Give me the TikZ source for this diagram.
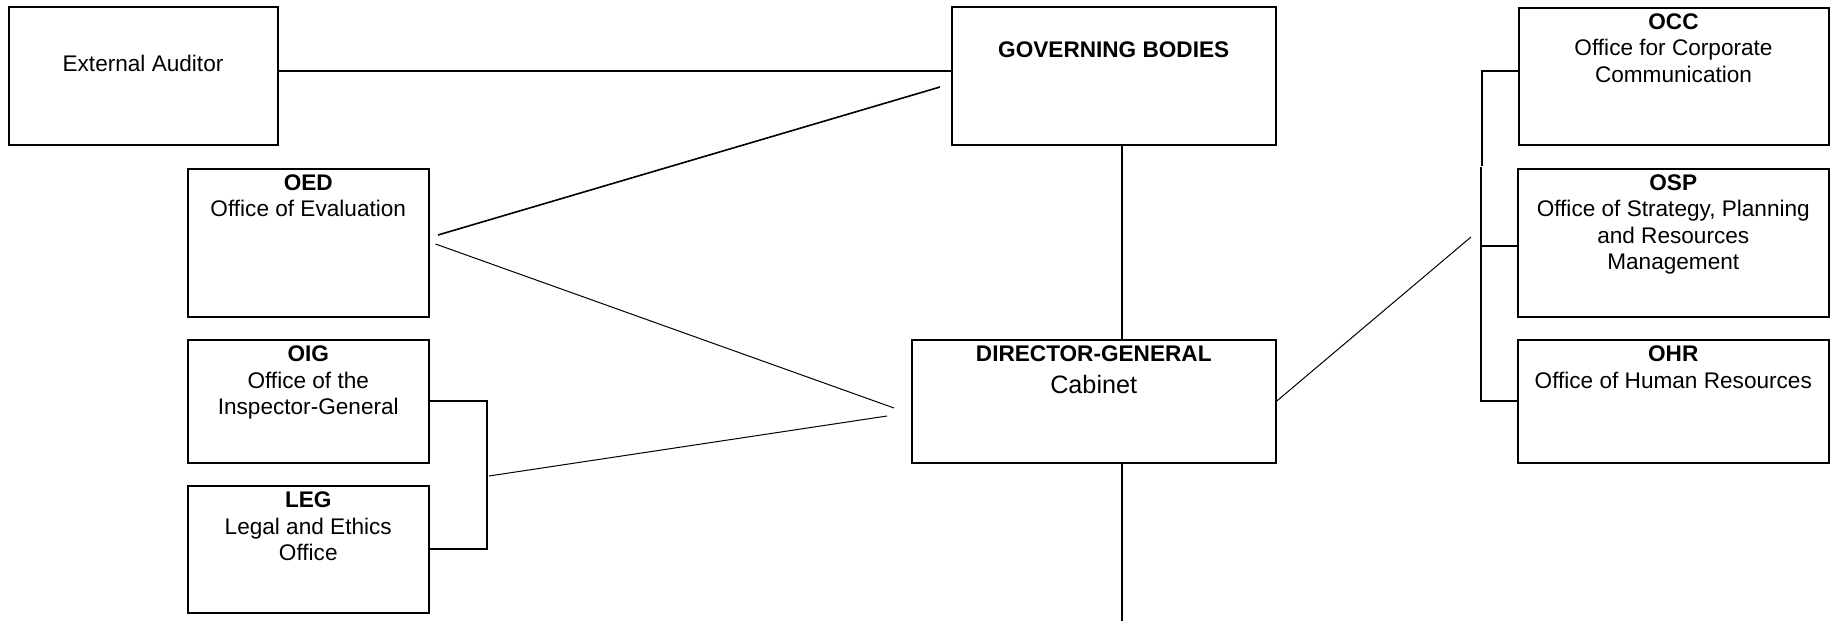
\documentclass[tikz,border=0pt]{standalone}
\usepackage{fontspec}
\setmainfont{Liberation Sans}
\usetikzlibrary{fit}
\begin{document}
\begin{tikzpicture}[x=0.5pt,y=-0.5pt,
  box/.style={draw, line width=1pt, rectangle, inner sep=0pt},
  txt/.style={anchor=north, align=center, inner sep=0pt, font=\fontsize{11.3}{13.25}\selectfont},
  ctxt/.style={anchor=center, align=center, inner sep=0pt, font=\fontsize{11.3}{13.25}\selectfont},
  conn/.style={line width=1pt},
  diag/.style={line width=0.5pt},
  diagb/.style={line width=0.8pt}]
\useasboundingbox (0,0) rectangle (1830,621);

% boxes
\node[box, fit={(8.5,7) (277.5,145)}] (ea) {};
\node[box, fit={(952,7) (1275.5,145)}] (gb) {};
\node[box, fit={(187.5,168.5) (429,316.5)}] (oed) {};
\node[box, fit={(187.5,340) (429,462.5)}] (oig) {};
\node[box, fit={(187.5,486) (429,612.5)}] (leg) {};
\node[box, fit={(912,340) (1275.5,462.5)}] (dg) {};
\node[box, fit={(1518.5,7.5) (1828.5,145)}] (occ) {};
\node[box, fit={(1518,168.5) (1828.5,316.5)}] (osp) {};
\node[box, fit={(1518,340) (1828.5,462.5)}] (ohr) {};

% texts
\node[ctxt] (ea-t) at (143,63) {External Auditor};
\node[ctxt] (gb-t) at (1113.7,49.5) {\textbf{GOVERNING BODIES}};
\node[txt] (oed-t) at ([yshift=-3.2pt]oed.north) {\textbf{OED}\\Office of Evaluation};
\node[txt] (oig-t) at ([yshift=-3.2pt]oig.north) {\textbf{OIG}\\Office of the\\Inspector-General};
\node[txt] (leg-t) at ([yshift=-3.2pt]leg.north) {\textbf{LEG}\\Legal and Ethics\\Office};
\node[txt] (dg-t) at ([yshift=-3.0pt]dg.north) {\textbf{DIRECTOR-GENERAL}};
\node[ctxt, font=\fontsize{12.6}{14}\selectfont] (dg-c) at (1093.7,384) {Cabinet};
\node[txt] (occ-t) at ([yshift=-3.2pt]occ.north) {\textbf{OCC}\\Office for Corporate\\Communication};
\node[txt] (osp-t) at ([yshift=-3.2pt]osp.north) {\textbf{OSP}\\Office of Strategy, Planning\\and Resources\\Management};
\node[txt] (ohr-t) at ([yshift=-3.2pt]ohr.north) {\textbf{OHR}\\Office of Human Resources};

% free ends
\coordinate (l1a) at (438,235);
\coordinate (l1b) at (940,87);
\coordinate (l2a) at (435.5,244);
\coordinate (l2b) at (894,408);
\coordinate (l3a) at (489,476);
\coordinate (l3b) at (887,416);
\coordinate (rt) at (1471,237);
\coordinate (vx) at (1122,0);
\coordinate (bot) at (1122,621);

% connectors
\draw[conn] ([yshift=2.5pt]ea.east) -- ([yshift=2.5pt]ea.east -| gb.west);
\draw[diagb] (l1a) -- (l1b);
\draw[diag] (l2a) -- (l2b);
\draw[diag] (l3a) -- (l3b);
\draw[conn] (oig.east) -- ++(57,0) |- (leg.east);
\draw[conn] (gb.south -| vx) -- (dg.north -| vx);
\draw[conn] (dg.south -| bot) -- (bot);
\draw[diag] (dg.east) -- (rt);
\draw[conn] ([yshift=2.5pt]occ.west) -- ++(-35.7,0) -- ++(0,95);
\draw[conn] (ohr.west) -- ++(-36.3,0) -- ++(0,-234);
\draw[conn] ([yshift=-1.75pt]osp.west) -- ++(-36.3,0);
\end{tikzpicture}
\end{document}
